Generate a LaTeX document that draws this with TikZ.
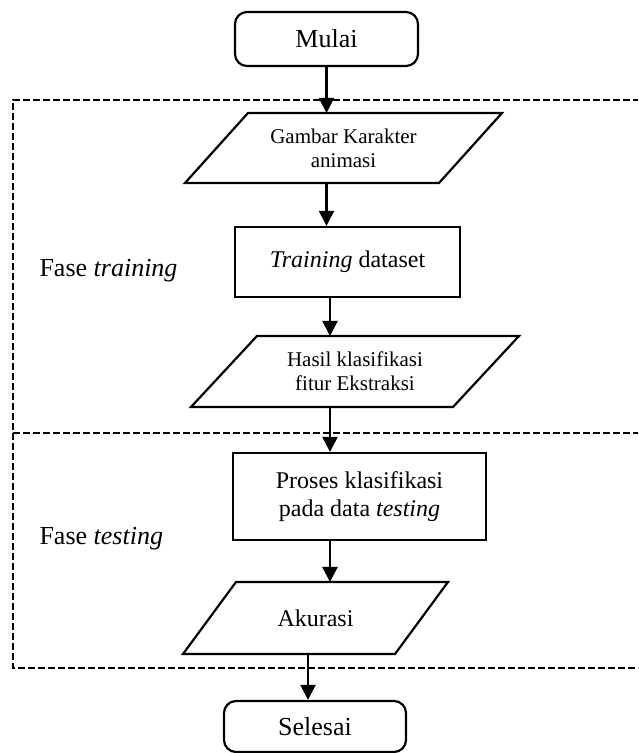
\documentclass[tikz,border=0pt]{standalone}
\usepackage{fontspec}
\setmainfont{Liberation Serif}
\usepackage{tikz}
\usetikzlibrary{arrows.meta}

\tikzset{
	termbox/.style={draw, line width=2.2pt, rounded corners=12pt, minimum width=183pt, minimum height=54pt, font=\fontsize{26}{30}\selectfont},
	procbox/.style={draw, line width=2.2pt, align=center, font=\fontsize{24}{28}\selectfont},
	iobox/.style={outer sep=0pt, align=center},
	ioline/.style={line width=2.2pt, line join=miter},
	arr/.style={line width=2.2pt, -{Triangle[length=15pt, width=15pt]}},
	phase/.style={line width=2pt, dash pattern=on 7pt off 3pt},
}

\begin{document}
\begin{tikzpicture}[x=1pt, y=1pt]
			\def\kanan{660}
			\useasboundingbox (0,0) rectangle (638,753);
			\clip (0,0) rectangle (638,753);
			
			% fase training dan testing
			\draw[phase] (\kanan,653) -- (13,653) -- (13,85) -- (\kanan,85);
			\draw[phase] (13,320) -- (\kanan,320);
			\node[anchor=base west, font=\fontsize{26}{30}\selectfont] (ftrain) at (36,476) {Fase \textit{training}};
			\node[anchor=base west, font=\fontsize{26}{30}\selectfont] (ftest) at (36,208) {Fase \textit{testing}};
			
			\node[termbox] (mulai) at (326.5,714) {Mulai};
			\node[iobox, minimum width=254pt, minimum height=70pt, font=\fontsize{21}{24}\selectfont] (gambar) at (343.5,605) {Gambar Karakter\\animasi};
			\node[procbox, minimum width=225pt, minimum height=70pt] (train) at (347.5,491) {\textit{Training} dataset};
			\node[iobox, minimum width=262pt, minimum height=71pt, font=\fontsize{21}{24}\selectfont] (hasil) at (355,381.5) {Hasil klasifikasi\\fitur Ekstraksi};
			\node[procbox, minimum width=253pt, minimum height=87pt] (proses) at (359.5,256.5) {Proses klasifikasi\\pada data \textit{testing}};
			\node[iobox, minimum width=212pt, minimum height=72pt, font=\fontsize{24}{28}\selectfont] (akurasi) at (315.5,135) {Akurasi};
			\node[termbox, minimum width=182pt, minimum height=51pt] (selesai) at (315,26.5) {Selesai};
			
			% jajar genjang input/output
			\foreach \n/\s in {gambar/63, hasil/66, akurasi/53}
				\draw[ioline] ([xshift=-\s/2]\n.south west) -- ([xshift=-\s/2]\n.south east)
					-- ([xshift=\s/2]\n.north east) -- ([xshift=\s/2]\n.north west) -- cycle;
			
			\coordinate (kb) at (330,0);
			\coordinate (kc) at (308,0);
			\draw[arr] (mulai.south) -- (mulai.south |- gambar.north);
			\draw[arr] (mulai.south |- gambar.south) -- (mulai.south |- train.north);
			\draw[arr] (kb |- train.south) -- (kb |- hasil.north);
			\draw[arr] (kb |- hasil.south) -- (kb |- proses.north);
			\draw[arr] (kb |- proses.south) -- (kb |- akurasi.north);
			\draw[arr] (kc |- akurasi.south) -- (kc |- selesai.north);
		\end{tikzpicture}
\end{document}
